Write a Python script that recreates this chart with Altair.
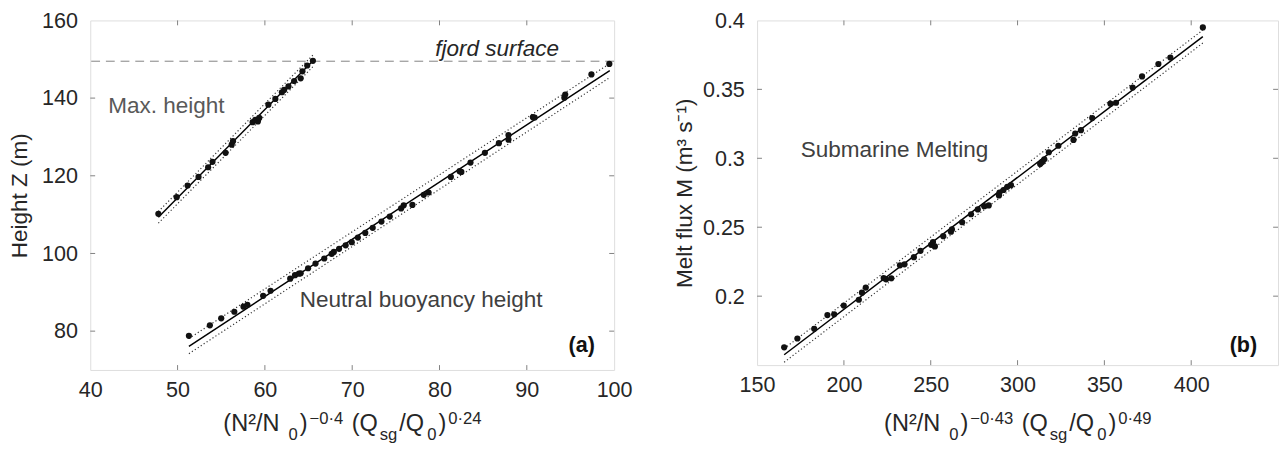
import altair as alt
import pandas as pd

FONT = "Liberation Sans"
DARK = "#262626"
FRAME = "#808080"

# ---------------- Panel (a) data ----------------
max_x = [47.8, 49.9, 51.15, 52.4, 53.5, 54.0, 55.5, 56.2, 56.35, 58.6, 58.9, 59.2, 59.35,
         60.4, 61.2, 61.95, 62.2, 62.7, 63.35, 64.1, 64.3, 64.85, 65.5]
max_y = [110.2, 114.5, 117.5, 119.7, 122.2, 123.6, 125.9, 128.0, 128.9, 133.8, 134.4, 134.0, 134.9,
         138.3, 139.8, 141.5, 142.1, 143.0, 144.4, 145.1, 146.9, 148.4, 149.6]

nb_x = [51.3, 53.7, 55.0, 56.5, 57.55, 58.0, 59.8, 60.65, 62.9, 63.45, 63.9, 64.1, 64.95, 65.8,
        66.8, 67.65, 67.9, 68.5, 69.25, 69.95, 70.65, 71.5, 72.35, 73.35, 74.3, 75.6, 75.9, 76.9,
        78.2, 78.75, 81.3, 82.3, 82.5, 83.55, 85.2, 86.8, 87.9, 87.9, 90.7, 90.9, 94.3, 94.4,
        97.4, 99.45]
nb_y = [78.8, 81.5, 83.3, 85.0, 86.3, 86.8, 89.1, 90.4, 93.5, 94.4, 94.8, 94.9, 96.2, 97.4,
        98.7, 99.9, 100.4, 101.2, 102.1, 102.9, 104.1, 105.3, 106.6, 108.2, 109.5, 111.6, 112.4, 112.5,
        115.1, 115.7, 119.7, 121.2, 121.0, 123.4, 125.9, 128.4, 130.5, 129.3, 135.1, 135.0, 140.1, 140.9,
        146.1, 148.8]

max_fit_x = [47.8, 65.6]
max_fit_y = [109.3, 149.8]
max_hi_y = [110.8, 151.3]
max_lo_y = [107.8, 148.3]

nb_fit_x = [51.3, 99.5]
nb_fit_y = [76.1, 147.1]
nb_hi_y = [78.1, 148.9]
nb_lo_y = [74.2, 145.3]

fjord_level = [149.5]

# ---------------- Panel (b) data ----------------
melt_x = [165.6, 173.2, 182.9, 190.5, 194.4, 199.9, 208.6, 210.4, 212.6, 222.9, 224.3, 227.3,
          232.3, 234.9, 240.3, 244.1, 250.2, 251.3, 252.4, 257.2, 261.6, 262.2, 268.1, 273.2,
          277.1, 280.8, 283.4, 289.3, 289.6, 291.9, 294.1, 296.2, 313.0, 314.2, 315.4, 318.0,
          323.5, 332.2, 333.2, 336.5, 343.0, 353.5, 356.7, 366.3, 371.7, 381.1, 388.0, 406.7]
melt_y = [0.1629, 0.1693, 0.1763, 0.1863, 0.1868, 0.1932, 0.1974, 0.2025, 0.2062, 0.2131, 0.2122, 0.2130,
          0.2224, 0.2231, 0.2283, 0.2329, 0.2372, 0.2393, 0.2361, 0.2435, 0.2468, 0.2484, 0.2536, 0.2594,
          0.2629, 0.2653, 0.2658, 0.2730, 0.2751, 0.2770, 0.2793, 0.2805, 0.2958, 0.2974, 0.2993, 0.3044,
          0.3091, 0.3133, 0.3180, 0.3204, 0.3292, 0.3396, 0.3403, 0.3513, 0.3594, 0.3684, 0.3731, 0.3949]

melt_fit_x = [165.6, 406.7]
melt_fit_y = [0.1575, 0.3883]
melt_hi_y = [0.1620, 0.3930]
melt_lo_y = [0.1521, 0.3836]

# ---------------- axes ----------------
a_xdom, a_ydom = [40, 100], [70, 160]
a_xlabels = [40, 50, 60, 70, 80, 90, 100]
a_ylabels = [80, 100, 120, 140, 160]
a_xticks = [50, 60, 70, 80, 90]
a_yticks = [80, 100, 120, 140]

b_xdom, b_ydom = [150, 450], [0.15, 0.4]
b_xlabels = [150, 200, 250, 300, 350, 400]
b_ylabels = [0.2, 0.25, 0.3, 0.35, 0.4]
b_xticks = [200, 250, 300, 350, 400]
b_yticks = [0.2, 0.25, 0.3, 0.35]

# x-axis title pieces: (text, role, extra space before in em of main size)
title_a = [("(N²/N", "main", 0), ("0", "sub", 0.3), (")", "main", 0), ("−0·4", "sup", 0),
           ("(Q", "main", 0.3), ("sg", "sub", 0), ("/Q", "main", 0), ("0", "sub", 0.05),
           (")", "main", 0), ("0·24", "sup", 0)]
title_b = [("(N²/N", "main", 0), ("0", "sub", 0.3), (")", "main", 0), ("−0·43", "sup", 0),
           ("(Q", "main", 0.3), ("sg", "sub", 0), ("/Q", "main", 0), ("0", "sub", 0.05),
           (")", "main", 0), ("0·49", "sup", 0)]

ADV = {"(": 333, ")": 333, "N": 722, "²": 333, "/": 278, "−": 584, "·": 300, " ": 278,
       "Q": 778, "s": 500, "g": 556}
for d in "0123456789":
    ADV[d] = 556

MAIN_FS, SMALL_FS, GAP = 24, 17, 2
LABEL_FS = 22


def seg_width(text, fs):
    return sum(ADV.get(c, 556) for c in text) * fs / 1000.0


def title_layers(pieces, width):
    sizes = [MAIN_FS if r == "main" else SMALL_FS for _, r, _ in pieces]
    widths = [seg_width(t, s) for (t, _, _), s in zip(pieces, sizes)]
    pre = [sp * MAIN_FS for _, _, sp in pieces]
    total = sum(widths) + sum(pre) + GAP * (len(pieces) - 1)
    x = width / 2 - total / 2
    base = 419
    offs = {"main": 0, "sub": 10, "sup": -7}
    layers = []
    one = pd.DataFrame({"k": [0]})
    for (t, r, _), s, w, p in zip(pieces, sizes, widths, pre):
        x += p
        layers.append(
            alt.Chart(one).mark_text(text=t, fontSize=s, font=FONT, color=DARK,
                                     align="left", baseline="alphabetic")
            .encode(x=alt.value(x), y=alt.value(base + offs[r]))
        )
        x += w + GAP
    return layers


def panel(width, height, xdom, ydom, xlabels, ylabels, xticks, yticks, yfmt, ytitle, tpad,
          pts_x, pts_y, lines, annotations, title_pieces, extra=None):
    xs = alt.Scale(domain=xdom, nice=False, zero=False)
    ys = alt.Scale(domain=ydom, nice=False, zero=False)
    xaxis = alt.Axis(values=xlabels, format="d", ticks=False, tickSize=0, domain=False, grid=False,
                     labelFontSize=LABEL_FS, labelFont=FONT, labelColor=DARK, labelPadding=10,
                     labelFlush=False, title=None)
    yaxis = alt.Axis(values=ylabels, format=yfmt, ticks=False, tickSize=0, domain=False, grid=False,
                     labelFontSize=LABEL_FS, labelFont=FONT, labelColor=DARK, labelPadding=13,
                     labelFlush=False,
                     title=ytitle, titleFontSize=23, titleFont=FONT, titleColor=DARK,
                     titleFontWeight="normal", titlePadding=tpad)

    pts_df = pd.DataFrame({"x": pts_x, "y": pts_y})
    layers = []
    # manual inward ticks
    tx = pd.DataFrame({"v": xticks})
    ty = pd.DataFrame({"v": yticks})
    tick_style = dict(color=FRAME, strokeWidth=1)
    layers.append(alt.Chart(tx).mark_rule(**tick_style).encode(
        x=alt.X("v:Q", scale=xs, axis=xaxis), y=alt.value(height), y2=alt.value(height - 5)))
    layers.append(alt.Chart(tx).mark_rule(**tick_style).encode(
        x=alt.X("v:Q", scale=xs), y=alt.value(0), y2=alt.value(5)))
    layers.append(alt.Chart(ty).mark_rule(**tick_style).encode(
        y=alt.Y("v:Q", scale=ys, axis=yaxis), x=alt.value(0), x2=alt.value(5)))
    layers.append(alt.Chart(ty).mark_rule(**tick_style).encode(
        y=alt.Y("v:Q", scale=ys), x=alt.value(width), x2=alt.value(width - 5)))

    if extra is not None:
        layers.extend(extra(xs, ys))

    for lx, ly, style in lines:
        df = pd.DataFrame({"x": lx, "y": ly})
        if style == "solid":
            m = alt.Chart(df).mark_line(color="#000000", strokeWidth=1.5)
        else:
            m = alt.Chart(df).mark_line(color="#333333", strokeWidth=1.2, strokeDash=[1.2, 2.4])
        layers.append(m.encode(x=alt.X("x:Q", scale=xs), y=alt.Y("y:Q", scale=ys)))

    layers.append(alt.Chart(pts_df).mark_circle(size=40, color="#111111", opacity=1).encode(
        x=alt.X("x:Q", scale=xs), y=alt.Y("y:Q", scale=ys)))

    for txt, ax, ay, props in annotations:
        df = pd.DataFrame({"x": [ax], "y": [ay]})
        layers.append(alt.Chart(df).mark_text(text=txt, font=FONT, **props).encode(
            x=alt.X("x:Q", scale=xs), y=alt.Y("y:Q", scale=ys)))

    layers.extend(title_layers(title_pieces, width))
    return alt.layer(*layers).properties(width=width, height=height)


def fjord(xs, ys):
    df = pd.DataFrame({"y": fjord_level})
    return [alt.Chart(df).mark_rule(color="#808080", strokeWidth=1, strokeDash=[9, 6]).encode(
        y=alt.Y("y:Q", scale=ys))]


W_A, H_A = 535, 357
W_B, H_B = 532, 352

left = panel(
    W_A, H_A, a_xdom, a_ydom, a_xlabels, a_ylabels, a_xticks, a_yticks, "d", "Height Z (m)", 10,
    max_x + nb_x, max_y + nb_y,
    [(max_fit_x, max_fit_y, "solid"), (max_fit_x, max_hi_y, "dot"), (max_fit_x, max_lo_y, "dot"),
     (nb_fit_x, nb_fit_y, "solid"), (nb_fit_x, nb_hi_y, "dot"), (nb_fit_x, nb_lo_y, "dot")],
    [("Max. height", 42.05, 138.0, dict(fontSize=23, color="#595959", align="left", baseline="middle")),
     ("Neutral buoyancy height", 64.0, 88.1, dict(fontSize=23, color="#404040", align="left", baseline="middle")),
     ("fjord surface", 93.7, 152.6, dict(fontSize=23, color=DARK, fontStyle="italic", align="right", baseline="middle")),
     ("(a)", 97.8, 76.5, dict(fontSize=22, color="#111111", fontWeight="bold", align="right", baseline="middle"))],
    title_a, extra=fjord)

right = panel(
    W_B, H_B, b_xdom, b_ydom, b_xlabels, b_ylabels, b_xticks, b_yticks, ".2~f", "Melt flux M (m³ s⁻¹)", 6,
    melt_x, melt_y,
    [(melt_fit_x, melt_fit_y, "solid"), (melt_fit_x, melt_hi_y, "dot"), (melt_fit_x, melt_lo_y, "dot")],
    [("Submarine Melting", 175.1, 0.3058, dict(fontSize=23, color="#404040", align="left", baseline="middle")),
     ("(b)", 438.0, 0.1645, dict(fontSize=22, color="#111111", fontWeight="bold", align="right", baseline="middle"))],
    title_b)

chart = alt.hconcat(left, right, spacing=41).properties(
    padding={"left": 0, "top": -4, "right": 0, "bottom": 0}
).configure_view(stroke=FRAME, strokeWidth=1).configure(background="white")

chart.save("out.html", embed_options={"renderer": "svg", "actions": False})
